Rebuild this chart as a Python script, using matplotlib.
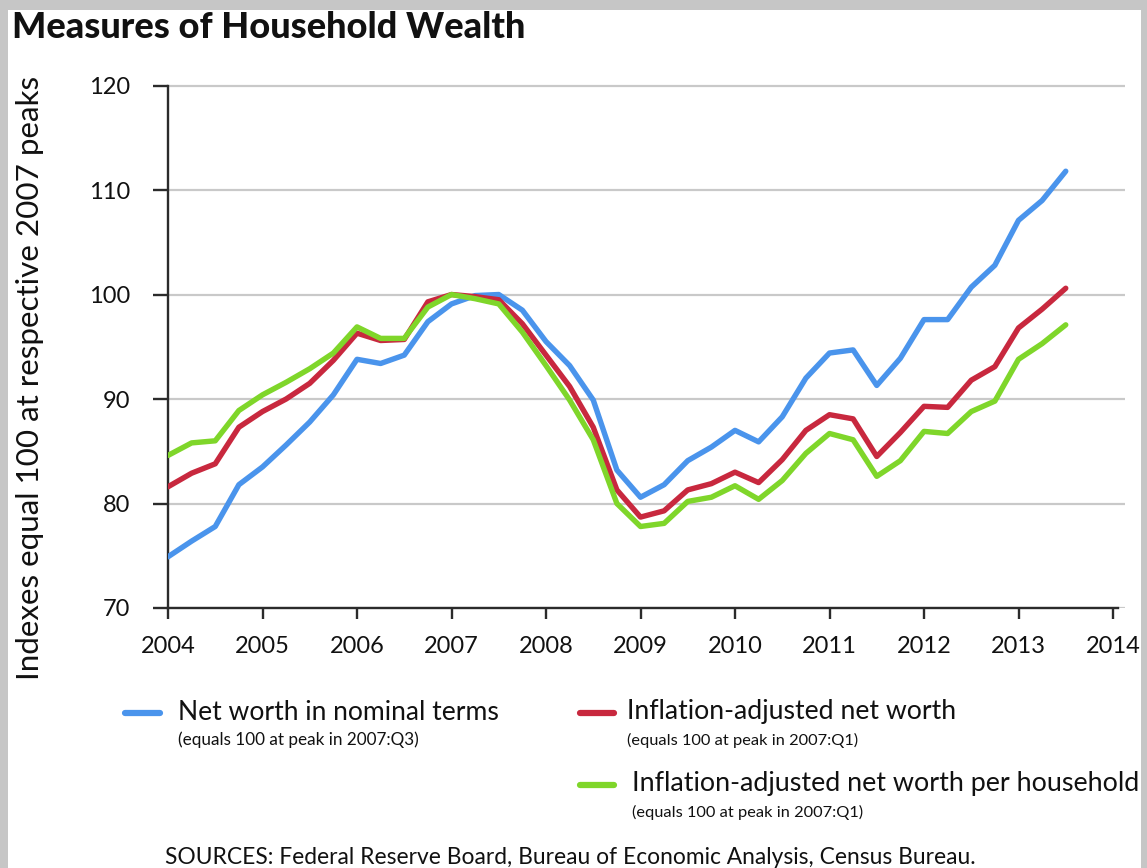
import matplotlib
matplotlib.use("Agg")
import matplotlib.pyplot as plt
from matplotlib.lines import Line2D
from matplotlib.patches import Rectangle

# ---------------- data ----------------
quarter_labels = [f"{y}Q{q}" for y in range(2004, 2014) for q in range(1, 5)][:39]

nominal = [74.9, 76.4, 77.8, 81.8, 83.5, 85.6, 87.8, 90.4, 93.8, 93.4,
           94.2, 97.4, 99.1, 99.9, 100.0, 98.5, 95.5, 93.2, 89.9, 83.2,
           80.6, 81.8, 84.1, 85.4, 87.0, 85.9, 88.3, 92.0, 94.4, 94.7,
           91.3, 93.9, 97.6, 97.6, 100.7, 102.8, 107.1, 109.0, 111.8]

real = [81.6, 82.9, 83.8, 87.3, 88.8, 90.0, 91.5, 93.7, 96.3, 95.6,
        95.7, 99.3, 100.0, 99.8, 99.5, 97.2, 94.2, 91.2, 87.3, 81.3,
        78.7, 79.3, 81.3, 81.9, 83.0, 82.0, 84.2, 87.0, 88.5, 88.1,
        84.5, 86.8, 89.3, 89.2, 91.8, 93.1, 96.8, 98.6, 100.6]

real_per_household = [84.6, 85.8, 86.0, 88.9, 90.4, 91.6, 92.9, 94.4, 96.9, 95.8,
                      95.8, 98.8, 100.0, 99.6, 99.1, 96.4, 93.2, 89.9, 86.1, 80.0,
                      77.8, 78.1, 80.2, 80.6, 81.7, 80.4, 82.2, 84.8, 86.7, 86.1,
                      82.6, 84.1, 86.9, 86.7, 88.8, 89.8, 93.8, 95.3, 97.1]

year_ticks = list(range(2004, 2015))
year_tick_labels = ["2004", "2005", "2006", "2007", "2008", "2009", "2010",
                    "2011", "2012", "2013", "2014"]
y_ticks = [70, 80, 90, 100, 110, 120]

series_names = ["Net worth in nominal terms",
                "Inflation-adjusted net worth",
                "Inflation-adjusted net worth per household"]
series_notes = ["(equals 100 at peak in 2007:Q3)",
                "(equals 100 at peak in 2007:Q1)",
                "(equals 100 at peak in 2007:Q1)"]

x = [int(s[:4]) + (int(s[5]) - 1) / 4 for s in quarter_labels]

# ---------------- style ----------------
W, H = 1147, 868
FONT = "Lato"
BLUE = "#4a94ec"
RED = "#c8283e"
GREEN = "#7fd62a"
AXC = "#2b2b2b"

plt.rcParams["font.family"] = [FONT, "DejaVu Sans"]

fig = plt.figure(figsize=(W / 100, H / 100), dpi=100)
fig.patch.set_facecolor("#c6c6c6")
fig.add_artist(Rectangle((8 / W, 0), (1141 - 8) / W, 1 - 10 / H,
                         transform=fig.transFigure, facecolor="white",
                         edgecolor="none", zorder=0))


def fx(px):
    return px / W


def fy(py):
    return 1 - py / H


left, right_px = 168, 1125
bottom_px, top_px = 608, 82.4
ax = fig.add_axes([fx(left), fy(bottom_px), (right_px - left) / W,
                   (bottom_px - top_px) / H])
ax.set_facecolor("none")

for vals, c in zip([nominal, real, real_per_household], [BLUE, RED, GREEN]):
    ax.plot(x, vals, color=c, lw=3.9, solid_joinstyle="round",
            solid_capstyle="round", zorder=3)

x_end = 2004 + (right_px - left) / 94.5
ax.set_xlim(2004, x_end)
ax.set_ylim(70, 120.3)
ax.set_yticks(y_ticks)
ax.set_xticks(year_ticks)
ax.set_xticklabels(year_tick_labels)
ax.grid(axis="y", color="#c9c9c9", lw=1.6, zorder=1)
ax.set_axisbelow(True)

for s in ["top", "right"]:
    ax.spines[s].set_visible(False)
for s in ["left", "bottom"]:
    ax.spines[s].set_color(AXC)
    ax.spines[s].set_linewidth(1.7)
ax.spines["bottom"].set_bounds(2004, 2014.05)
ax.spines["left"].set_bounds(70, 120)

ax.tick_params(axis="y", length=11, width=1.7, color=AXC, pad=16,
               labelsize=17, labelcolor="#111111")
ax.tick_params(axis="x", length=8, width=1.7, color=AXC, pad=12,
               labelsize=17, labelcolor="#111111")

fig.canvas.draw()
renderer = fig.canvas.get_renderer()


def fit(t, target_px):
    bb = t.get_window_extent(renderer)
    t.set_fontsize(t.get_fontsize() * target_px / bb.width)


# title
t = fig.text(fx(12), fy(27), "Measures of Household Wealth", ha="left",
             va="center", fontsize=24, fontweight="black", color="#111111")
fit(t, 513)

# y label
yl = fig.text(fx(30), fy(378), "Indexes equal 100 at respective 2007 peaks",
              rotation=90, ha="center", va="center", fontsize=18,
              color="#111111")
fig.canvas.draw()
bb = yl.get_window_extent(renderer)
yl.set_fontsize(yl.get_fontsize() * 605 / bb.height)

# legend
handles = [(125, 160, 713, BLUE), (580, 614, 713, RED), (580, 614, 785, GREEN)]
text_pos = [(178, 712, 320, 740, 240), (627, 712, 328, 740, 230),
            (632, 784, 506, 812, 230)]
for (x0, x1, yy, c), (tx, ty, tw, sy, sw), name, note in zip(
        handles, text_pos, series_names, series_notes):
    fig.add_artist(Line2D([fx(x0), fx(x1)], [fy(yy), fy(yy)],
                          transform=fig.transFigure, color=c, lw=4.5,
                          solid_capstyle="round"))
    t1 = fig.text(fx(tx), fy(ty), name, ha="left", va="center", fontsize=17,
                  color="#111111")
    fit(t1, tw)
    t2 = fig.text(fx(tx), fy(sy), note, ha="left", va="center", fontsize=10,
                  color="#111111")
    fit(t2, sw)

src = fig.text(fx(165), fy(857),
               "SOURCES: Federal Reserve Board, Bureau of Economic Analysis, Census Bureau.",
               ha="left", va="center", fontsize=14, color="#111111")
fit(src, 807)

fig.savefig("out.png", dpi=100, facecolor=fig.get_facecolor())
